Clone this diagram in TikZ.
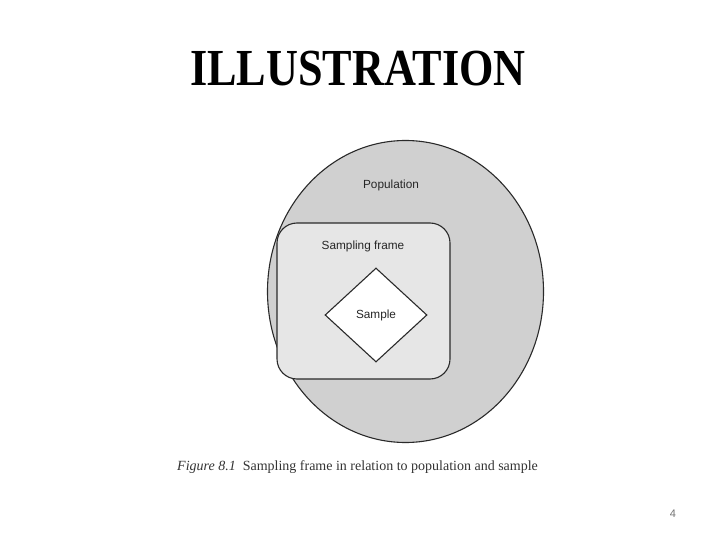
\documentclass[tikz,border=0pt]{standalone}
\usepackage{fontspec}
\setmainfont{Liberation Serif}
\newfontfamily\diagfont{Liberation Sans}
\usetikzlibrary{shapes.geometric}
\definecolor{popgray}{HTML}{D0D0D0}
\definecolor{framegray}{HTML}{E6E6E6}
\definecolor{edgegray}{HTML}{2A2A2A}
\tikzset{
  lbl/.style={font=\diagfont\fontsize{11.8}{13}\selectfont, text=black!85, inner sep=0pt},
  shapeline/.style={draw=edgegray, line width=1.1pt}
}
\begin{document}
\begin{tikzpicture}[x=1pt,y=-1pt]
\useasboundingbox (0,0) rectangle (720,540);
% title
\node[font=\bfseries\fontsize{52}{58}\selectfont, inner sep=0pt, xscale=0.85] (title) at (358,69) {ILLUSTRATION};
% population
\node[shapeline, fill=popgray, ellipse, minimum width=276pt, minimum height=302pt, inner sep=0pt] (pop) at (405.5,291.5) {};
\node[lbl] (poplbl) at (391,185) {Population};
% sampling frame
\node[shapeline, fill=framegray, rectangle, rounded corners=20pt, minimum width=173pt, minimum height=156pt, inner sep=0pt] (frame) at (363.5,301) {};
\node[lbl] (framelbl) at (363,246) {Sampling frame};
% sample
\node[shapeline, fill=white, diamond, minimum width=102pt, minimum height=94pt, inner sep=0pt, aspect=1.08] (sample) at (376,315) {};
\node[lbl] (samplelbl) at (376,315) {Sample};
% caption
\node[font=\fontsize{14}{16}\selectfont, inner sep=0pt, anchor=west, text=black!80] (caption) at (177,467) {\textit{Figure 8.1}\ \ Sampling frame in relation to population and sample};
% page number
\node[font=\diagfont\fontsize{11}{12}\selectfont, text=black!55, inner sep=0pt] (page) at (673,514) {4};
\end{tikzpicture}
\end{document}
